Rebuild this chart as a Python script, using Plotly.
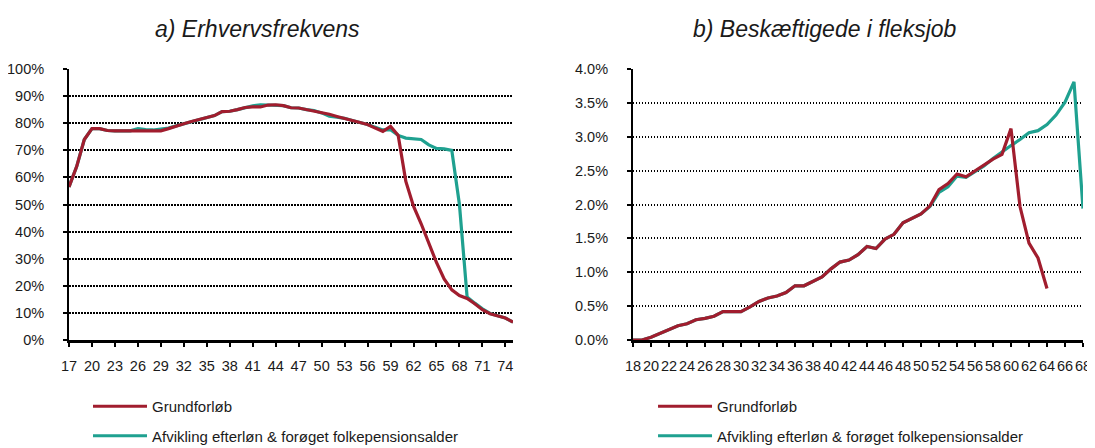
import plotly.graph_objects as go

# ---------------- data ----------------
ages_a = list(range(17, 76))
grund_a = [56.5, 64, 74, 78, 78, 77.3, 77.2, 77.2, 77.2, 77.2, 77.2, 77.2, 77.2,
           78.0, 79.0, 79.8, 80.6, 81.3, 82.0, 82.8, 84.3, 84.4, 85.0, 85.8, 86.0,
           86.0, 86.7, 86.8, 86.5, 85.7, 85.6, 85.0, 84.7, 84.0, 83.3, 82.5, 81.8,
           81.0, 80.3, 79.5, 78.2, 77.0, 78.8, 75.5, 58.5, 49.4, 42.9, 35.8, 28.6,
           22.5, 18.5, 16.4, 15.3, 13.4, 11.2, 9.7, 9.0, 8.1, 6.6]
afvik_a = [56.5, 64, 74, 78, 78, 77.3, 77.2, 77.2, 77.2, 78.0, 77.6, 77.5, 78.0,
           78.2, 79.0, 79.8, 80.6, 81.3, 82.0, 82.8, 84.3, 84.4, 85.0, 85.8, 86.4,
           86.8, 86.7, 86.8, 86.5, 85.7, 85.6, 85.0, 84.7, 83.8, 82.6, 82.2, 81.8,
           81.0, 80.3, 79.5, 78.5, 77.5, 77.6, 75.5, 74.5, 74.2, 74.0, 72.0, 70.7,
           70.5, 70.0, 50.0, 15.9, 13.6, 11.5, 9.8, 9.0, 8.1, 6.6]

ages_b_grund = list(range(18, 65))
grund_b = [0.00, 0.00, 0.04, 0.10, 0.16, 0.21, 0.24, 0.30, 0.32, 0.35, 0.42, 0.42,
           0.42, 0.49, 0.57, 0.62, 0.65, 0.70, 0.80, 0.80, 0.87, 0.93, 1.05, 1.15,
           1.18, 1.26, 1.38, 1.35, 1.49, 1.56, 1.73, 1.79, 1.86, 1.98, 2.22, 2.31,
           2.45, 2.41, 2.50, 2.59, 2.67, 2.74, 3.12, 1.97, 1.43, 1.21, 0.76]
ages_b_afvik = list(range(18, 69))
afvik_b = [0.00, 0.00, 0.04, 0.10, 0.16, 0.21, 0.24, 0.30, 0.32, 0.35, 0.42, 0.42,
           0.42, 0.49, 0.57, 0.62, 0.65, 0.70, 0.80, 0.80, 0.87, 0.93, 1.05, 1.15,
           1.18, 1.26, 1.38, 1.35, 1.49, 1.56, 1.73, 1.79, 1.86, 1.97, 2.18, 2.26,
           2.42, 2.40, 2.48, 2.57, 2.68, 2.78, 2.87, 2.96, 3.06, 3.09, 3.18, 3.32,
           3.51, 3.81, 1.94]

titles = ["a) Erhvervsfrekvens", "b) Beskæftigede i fleksjob"]
series_names = ["Grundforløb", "Afvikling efterløn & forøget folkepensionsalder"]

RED = "#A11D2E"
TEAL = "#1FA190"
FONT = "Liberation Sans, Arial, sans-serif"
TXT = "#1a1a1a"

fig = go.Figure()

# left chart
fig.add_trace(go.Scatter(x=ages_a, y=[v / 100 for v in afvik_a], mode="lines",
                         line=dict(color=TEAL, width=3.2), name=series_names[1],
                         xaxis="x", yaxis="y", legend="legend", legendrank=2,
                         legendgroup="a2"))
fig.add_trace(go.Scatter(x=ages_a, y=[v / 100 for v in grund_a], mode="lines",
                         line=dict(color=RED, width=3.2), name=series_names[0],
                         xaxis="x", yaxis="y", legend="legend", legendrank=1,
                         legendgroup="a1"))
# right chart
fig.add_trace(go.Scatter(x=ages_b_afvik, y=[v / 100 for v in afvik_b], mode="lines",
                         line=dict(color=TEAL, width=3.2), name=series_names[1],
                         xaxis="x2", yaxis="y2", legend="legend2", legendrank=2,
                         legendgroup="b2"))
fig.add_trace(go.Scatter(x=ages_b_grund, y=[v / 100 for v in grund_b], mode="lines",
                         line=dict(color=RED, width=3.2), name=series_names[0],
                         xaxis="x2", yaxis="y2", legend="legend2", legendrank=1,
                         legendgroup="b1"))

axis_common = dict(showline=True, linecolor="black", ticks="outside", ticklen=4,
                   tickwidth=1.5, tickcolor="black", zeroline=False, automargin=False,
                   tickfont=dict(family=FONT, size=14.5, color=TXT))
grid = dict(showgrid=True, gridcolor="black", gridwidth=1.5, griddash="1.5px,1.5px")

legend_common = dict(xref="container", yref="container", xanchor="left",
                     yanchor="top", bgcolor="rgba(0,0,0,0)", tracegroupgap=7,
                     itemwidth=54,
                     font=dict(family=FONT, size=15, color=TXT))

# page has an 8px body margin, so the figure is 8px smaller than the window
fig.update_layout(
    width=1087, height=440,
    margin=dict(l=61, r=12, t=61, b=108, autoexpand=False),
    paper_bgcolor="white", plot_bgcolor="white",
    font=dict(family=FONT, color=TXT),
    xaxis=dict(domain=[0, 0.4379], range=[17, 75], tick0=17, dtick=3,
               linewidth=2.5, showgrid=False, tickangle=0, ticklabelstandoff=7,
               anchor="y", **axis_common),
    yaxis=dict(domain=[0, 1], range=[0, 1], dtick=0.1, tickformat=".0%",
               linewidth=2, ticklabelstandoff=16, anchor="x",
               **grid, **axis_common),
    xaxis2=dict(domain=[0.5562, 1], range=[18, 68], tick0=18, dtick=2,
                linewidth=2.5, showgrid=False, tickangle=0, ticklabelstandoff=7,
                anchor="y2", **axis_common),
    yaxis2=dict(domain=[0, 1], range=[0, 0.04], dtick=0.005, tickformat=".1%",
                linewidth=2, ticklabelstandoff=16, anchor="x2",
                **grid, **axis_common),
    legend=dict(x=0.0736, y=0.1318, **legend_common),
    legend2=dict(x=0.5934, y=0.1318, **legend_common),
    annotations=[
        dict(text=titles[0], xref="paper", yref="paper", x=0.1859, y=1.1476,
             xanchor="center", yanchor="middle", showarrow=False,
             font=dict(family=FONT, size=23, color=TXT, style="italic")),
        dict(text=titles[1], xref="paper", yref="paper", x=0.7456, y=1.1476,
             xanchor="center", yanchor="middle", showarrow=False,
             font=dict(family=FONT, size=23, color=TXT, style="italic")),
    ],
)

fig.write_html("out.html")
